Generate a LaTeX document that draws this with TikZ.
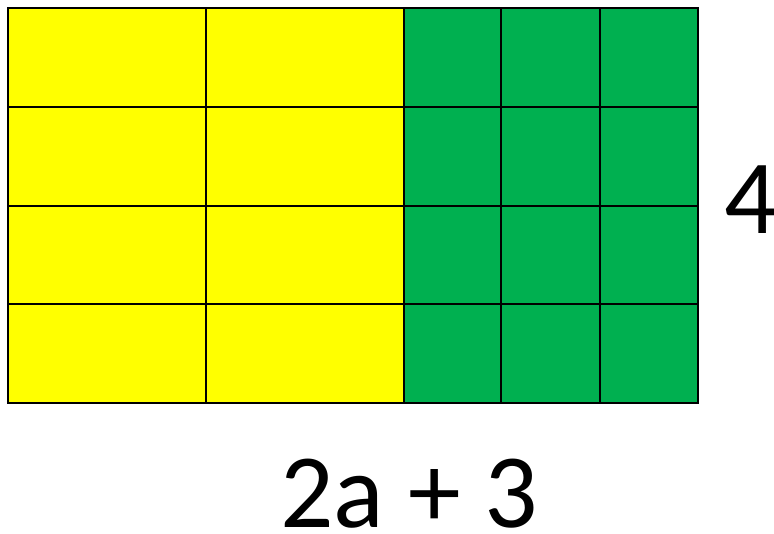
\documentclass[tikz,border=0pt]{standalone}
\usepackage{fontspec}
\setmainfont{Carlito}
\usepackage{tikz}
\usetikzlibrary{calc}
\usetikzlibrary{positioning}
\definecolor{tileyellow}{HTML}{FFFF00}
\definecolor{tilegreen}{HTML}{00B050}

\begin{document}
\begin{tikzpicture}[x=0.01cm,y=-0.01cm]
  \useasboundingbox (0,0) rectangle (774,533);
  \tikzset{
long tile/.style={fill=tileyellow,draw=black,line width=0.8pt},
unit tile/.style={fill=tilegreen,draw=black,line width=0.8pt},
side label/.style={font=\fontsize{30}{36}\selectfont,inner sep=0}
}
  % the two long tiles in each row
  \foreach \r/\ya/\yb in {1/8/107,2/107/206,3/206/304,4/304/403}{
    \foreach \xa/\xb in {8/206,206/404}
      \draw[long tile] (\xa,\ya) rectangle (\xb,\yb);
    \foreach \xa/\xb in {404/501,501/600,600/698}
      \draw[unit tile] (\xa,\ya) rectangle (\xb,\yb);
  }
  \node[side label,anchor=base west](height) at (724,233){4};
  \node[side label,anchor=base](width) at (409,527){2a + 3};
\end{tikzpicture}
\end{document}
